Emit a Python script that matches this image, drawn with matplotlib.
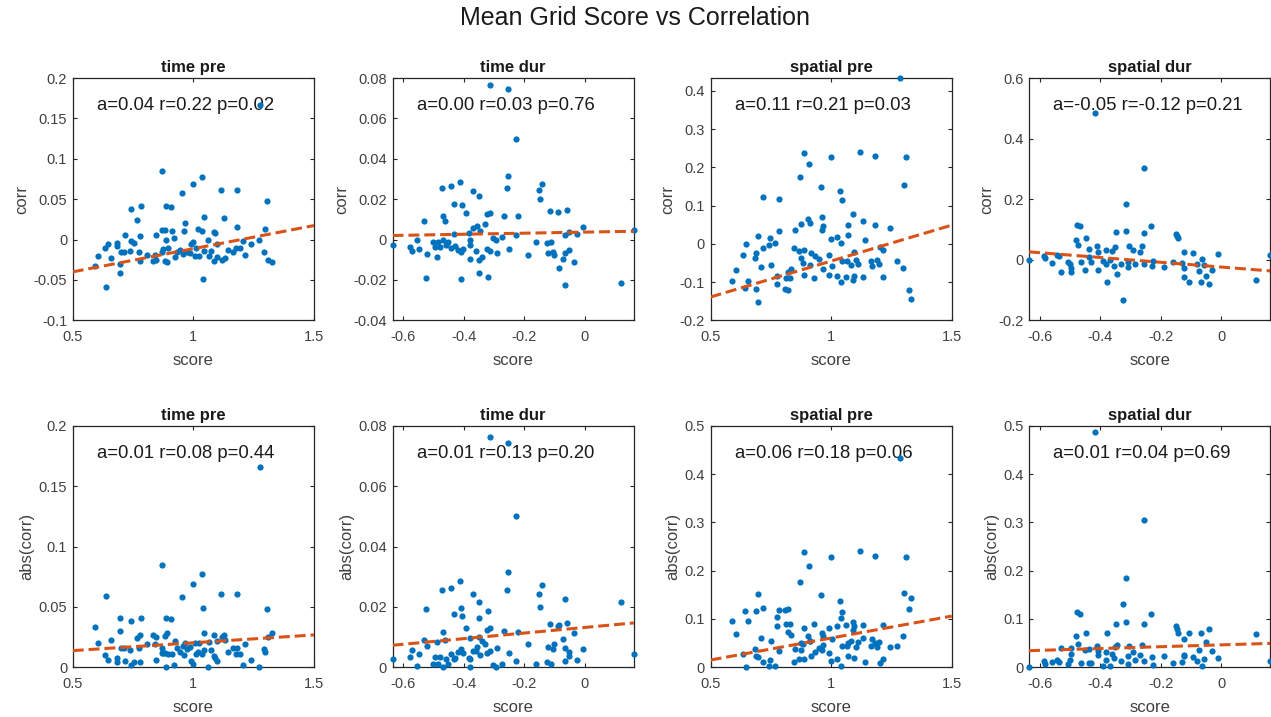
import matplotlib
matplotlib.use("Agg")
import matplotlib.pyplot as plt
import numpy as np

plt.rcParams['font.family'] = ['Liberation Sans', 'DejaVu Sans']
plt.rcParams['axes.unicode_minus'] = False

# ---- data ----
# grid score "pre" vs correlation, time task
x_time_pre = [0.872, 1.037, 0.999, 1.116, 1.179, 0.953, 1.304, 0.782, 0.742, 0.886,
              0.908, 0.767, 1.043, 1.128, 0.964, 0.963, 1.179, 1.295, 1.021, 1.037,
              1.084, 0.869, 0.883, 0.913, 0.847, 0.718, 0.780, 0.886, 0.921, 0.999,
              0.992, 1.089, 1.059, 1.098, 1.207, 1.237, 1.274, 0.742, 0.756, 0.685,
              0.647, 0.635, 0.682, 0.606, 0.658, 0.700, 0.713, 0.775, 0.806, 0.839,
              0.872, 0.895, 0.923, 0.932, 0.943, 0.974, 0.988, 1.007, 1.022, 1.044,
              1.065, 1.085, 1.100, 1.132, 1.145, 1.164, 1.178, 1.193, 1.215, 1.291,
              1.311, 1.325, 0.778, 0.831, 0.882, 0.890, 0.696, 0.591, 0.698, 0.640,
              1.041, 1.275, 0.875, 0.957, 1.012, 1.072, 1.117, 0.847, 0.737]
y_time_pre = [0.085, 0.077, 0.069, 0.061, 0.061, 0.058, 0.048, 0.041, 0.038, 0.041,
              0.040, 0.024, 0.028, 0.027, 0.020, 0.010, 0.016, 0.013, 0.013, 0.011,
              0.009, 0.012, 0.012, 0.011, 0.006, 0.005, 0.004, 0.000, 0.002, -0.003,
              -0.005, 0.008, 0.000, -0.005, -0.002, -0.006, 0.000, -0.002, -0.004, -0.004,
              -0.006, -0.010, -0.008, -0.020, -0.023, -0.016, -0.016, -0.016, -0.019, -0.019,
              -0.016, -0.011, -0.022, -0.016, -0.013, -0.015, -0.017, -0.020, -0.020, -0.014,
              -0.021, -0.027, -0.022, -0.023, -0.013, -0.016, -0.011, -0.011, -0.019, -0.015,
              -0.025, -0.028, -0.027, -0.027, -0.026, -0.028, -0.030, -0.033, -0.041, -0.059,
              -0.049, 0.166, -0.012, -0.018, -0.011, -0.014, -0.025, -0.025, -0.014]

# grid score "pre" vs correlation, spatial task
x_spat_pre = [1.286, 0.889, 1.118, 1.001, 1.181, 1.310, 0.908, 0.870, 0.957, 1.300,
              1.037, 1.046, 0.718, 0.784, 1.089, 0.903, 0.963, 1.132, 0.914, 0.877,
              1.070, 1.181, 0.966, 1.242, 0.850, 0.961, 0.784, 1.071, 0.697, 0.746,
              1.024, 1.001, 1.141, 0.648, 0.743, 0.769, 1.042, 0.717, 0.688, 0.635,
              0.683, 0.846, 0.868, 0.888, 0.875, 0.918, 0.934, 0.948, 0.992, 1.096,
              1.203, 1.216, 0.606, 0.708, 0.752, 0.883, 0.914, 0.966, 1.002, 1.046,
              1.066, 1.082, 1.101, 1.112, 1.165, 1.190, 1.198, 1.170, 1.272, 1.296,
              0.823, 0.835, 0.886, 0.812, 0.776, 0.776, 0.831, 0.930, 0.991, 1.024,
              1.041, 1.060, 1.090, 1.096, 1.134, 1.216, 0.590, 0.657, 0.642, 0.690,
              0.810, 0.820, 0.697, 1.321, 1.330]
y_spat_pre = [0.433, 0.238, 0.240, 0.228, 0.230, 0.228, 0.209, 0.176, 0.150, 0.153,
              0.138, 0.114, 0.123, 0.118, 0.078, 0.064, 0.070, 0.061, 0.054, 0.051,
              0.050, 0.050, 0.047, 0.041, 0.037, 0.035, 0.034, 0.023, 0.021, 0.016,
              0.018, 0.013, 0.010, -0.001, -0.003, 0.002, 0.003, -0.012, -0.023, -0.028,
              -0.037, -0.012, -0.018, -0.017, -0.036, -0.024, -0.031, -0.040, -0.029, -0.020,
              -0.009, -0.017, -0.069, -0.061, -0.054, -0.049, -0.054, -0.065, -0.059, -0.045,
              -0.044, -0.054, -0.042, -0.052, -0.045, -0.042, -0.052, -0.059, -0.045, -0.064,
              -0.073, -0.066, -0.081, -0.090, -0.085, -0.104, -0.090, -0.089, -0.081, -0.085,
              -0.101, -0.087, -0.094, -0.085, -0.088, -0.088, -0.096, -0.096, -0.116, -0.117,
              -0.118, -0.120, -0.152, -0.120, -0.144]

# grid score "dur" vs correlation, time task
x_time_dur = [-0.312, -0.253, -0.227, -0.252, -0.472, -0.441, -0.411, -0.258, -0.141, -0.150,
              -0.369, -0.348, -0.146, -0.433, -0.407, -0.391, -0.470, -0.463, -0.531, -0.323,
              -0.314, -0.267, -0.220, -0.116, -0.088, -0.058, -0.329, -0.370, -0.357, -0.346,
              -0.383, -0.433, -0.006, -0.051, -0.066, -0.026, -0.228, 0.163, -0.303, -0.292,
              -0.273, -0.380, -0.554, -0.501, -0.485, -0.468, -0.452, -0.636, -0.578, -0.571,
              -0.547, -0.496, -0.478, -0.460, -0.441, -0.430, -0.419, -0.408, -0.402, -0.522,
              -0.487, -0.381, -0.358, -0.379, -0.350, -0.339, -0.322, -0.312, -0.290, -0.250,
              -0.161, -0.125, -0.110, -0.186, -0.120, -0.105, -0.102, -0.066, -0.050, -0.070,
              -0.036, -0.084, -0.350, -0.525, -0.408, -0.319, -0.064, 0.119]
y_time_dur = [0.0764, 0.0744, 0.0500, 0.0317, 0.0257, 0.0264, 0.0285, 0.0257, 0.0273, 0.0244,
              0.0242, 0.0215, 0.0200, 0.0177, 0.0171, 0.0129, 0.0116, 0.0090, 0.0090, 0.0124,
              0.0129, 0.0119, 0.0118, 0.0143, 0.0136, 0.0148, 0.0078, 0.0055, 0.0068, 0.0041,
              0.0031, 0.0028, 0.0060, 0.0036, 0.0022, 0.0025, 0.0020, 0.0045, 0.0007, -0.0002,
              0.0012, -0.0002, -0.0003, -0.0012, -0.0010, -0.0002, -0.0010, -0.0028, -0.0035, -0.0058,
              -0.0045, -0.0035, -0.0035, -0.0028, -0.0043, -0.0031, -0.0051, -0.0060, -0.0046, -0.0071,
              -0.0085, -0.0028, -0.0055, -0.0098, -0.0101, -0.0088, -0.0048, -0.0055, -0.0065, -0.0048,
              -0.0012, -0.0018, -0.0012, -0.0078, -0.0068, -0.0061, -0.0078, -0.0065, -0.0051, -0.0095,
              -0.0113, -0.0139, -0.0164, -0.0192, -0.0196, -0.0187, -0.0227, -0.0217]

# grid score "dur" vs correlation, spatial task
x_spat_dur = [-0.418, -0.256, -0.316, -0.477, -0.466, -0.231, -0.347, -0.316, -0.256, -0.150,
              -0.147, -0.143, -0.446, -0.480, -0.475, -0.411, -0.438, -0.351, -0.304, -0.263,
              -0.381, -0.407, -0.360, -0.292, -0.270, -0.122, -0.009, 0.163, -0.587, -0.583,
              -0.544, -0.536, -0.636, -0.560, -0.506, -0.500, -0.497, -0.496, -0.530, -0.465,
              -0.451, -0.438, -0.431, -0.407, -0.391, -0.382, -0.378, -0.368, -0.356, -0.343,
              -0.330, -0.326, -0.309, -0.307, -0.285, -0.254, -0.230, -0.225, -0.189, -0.160,
              -0.128, -0.123, -0.122, -0.106, -0.092, -0.081, -0.074, -0.066, -0.062, -0.056,
              -0.051, -0.040, -0.029, 0.117]
y_spat_dur = [0.486, 0.304, 0.184, 0.114, 0.111, 0.110, 0.090, 0.094, 0.089, 0.086,
              0.079, 0.072, 0.072, 0.065, 0.048, 0.044, 0.037, 0.042, 0.044, 0.046,
              0.031, 0.025, 0.028, 0.031, 0.025, 0.024, 0.019, 0.014, 0.013, 0.006,
              0.015, 0.011, 0.000, -0.010, -0.007, -0.015, -0.028, -0.040, -0.040, -0.008,
              -0.035, 0.009, -0.009, -0.034, -0.003, -0.015, -0.072, -0.002, -0.020, -0.046,
              -0.013, -0.132, -0.024, -0.006, -0.015, -0.013, -0.022, -0.004, -0.024, -0.009,
              -0.011, -0.026, -0.058, -0.072, 0.022, -0.013, -0.036, -0.072, 0.002, -0.017,
              -0.053, -0.079, -0.034, -0.068]

titles = ["time pre", "time dur", "spatial pre", "spatial dur"]
stats_corr = ["a=0.04 r=0.22 p=0.02", "a=0.00 r=0.03 p=0.76",
              "a=0.11 r=0.21 p=0.03", "a=-0.05 r=-0.12 p=0.21"]
stats_abs = ["a=0.01 r=0.08 p=0.44", "a=0.01 r=0.13 p=0.20",
             "a=0.06 r=0.18 p=0.06", "a=0.01 r=0.04 p=0.69"]
# fitted line values at the left / right x limits
fit_corr = [(-0.040, 0.0173), (0.0020, 0.0041), (-0.139, 0.049), (0.026, -0.037)]
fit_abs = [(0.0138, 0.0268), (0.0073, 0.0147), (0.0151, 0.106), (0.0344, 0.0495)]

xs = [x_time_pre, x_time_dur, x_spat_pre, x_spat_dur]
ys = [y_time_pre, y_time_dur, y_spat_pre, y_spat_dur]
xlims = [(0.5, 1.5), (-0.636, 0.163), (0.5, 1.5), (-0.636, 0.163)]
xticks = [[0.5, 1, 1.5], [-0.6, -0.4, -0.2, 0], [0.5, 1, 1.5], [-0.6, -0.4, -0.2, 0]]
ylims_corr = [(-0.1, 0.2), (-0.04, 0.08), (-0.2, 0.434), (-0.2, 0.6)]
yticks_corr = [np.arange(-0.1, 0.201, 0.05), np.arange(-0.04, 0.081, 0.02),
               np.arange(-0.2, 0.41, 0.1), np.arange(-0.2, 0.61, 0.2)]
ylims_abs = [(0, 0.2), (0, 0.08), (0, 0.5), (0, 0.5)]
yticks_abs = [np.arange(0, 0.201, 0.05), np.arange(0, 0.081, 0.02),
              np.arange(0, 0.51, 0.1), np.arange(0, 0.51, 0.1)]

BLUE = '#0072BD'
ORANGE = '#D95319'
DARK = '#262626'

W, H = 1271, 717
fig = plt.figure(figsize=(W / 100, H / 100), dpi=100)
fig.text(0.5, 1 - 18 / H, "Mean Grid Score vs Correlation", ha='center', va='center',
         fontsize=18, color='#1a1a1a')

lefts = [72.7, 392.5, 710.5, 1029.0]
aw = 241.3
rows = [(78.0, 320.3), (425.7, 667.3)]


def fmt(v):
    s = "%g" % round(v, 4)
    return s


def panel(ax, x, y, xl, xt, yl, yt, fit, title, stat, ylab):
    ax.scatter(x, y, s=20, c=BLUE, linewidths=0, clip_on=False, zorder=3)
    ax.plot(xl, fit, color=ORANGE, lw=2.2, linestyle=(0, (3.6, 1.6)), zorder=4)
    ax.set_xlim(xl)
    ax.set_ylim(yl)
    ax.set_xticks(xt)
    ax.set_xticklabels([fmt(v) for v in xt])
    ax.set_yticks(yt)
    ax.set_yticklabels([fmt(v) for v in yt])
    ax.tick_params(direction='in', length=3, width=0.8, top=True, right=True,
                   labelsize=10.5, colors=DARK, labelcolor='#404040')
    ax.tick_params(axis='x', pad=7)
    ax.tick_params(axis='y', pad=4)
    for sp in ax.spines.values():
        sp.set_color(DARK)
        sp.set_linewidth(0.9)
    ax.set_title(title, fontsize=12, fontweight='bold', color='#1a1a1a', pad=4)
    ax.set_xlabel("score", fontsize=12, color='#404040', labelpad=6.5)
    ax.set_ylabel(ylab, fontsize=12, color='#404040', labelpad=3)
    ax.text(0.1, 0.885, stat, transform=ax.transAxes, ha='left', va='center',
            fontsize=13.3, color='#1a1a1a', zorder=2)


for i in range(4):
    for r, (top, bot) in enumerate(rows):
        ax = fig.add_axes([lefts[i] / W, 1 - bot / H, aw / W, (bot - top) / H])
        if r == 0:
            panel(ax, xs[i], ys[i], xlims[i], xticks[i], ylims_corr[i], yticks_corr[i],
                  fit_corr[i], titles[i], stats_corr[i], "corr")
        else:
            panel(ax, xs[i], np.abs(ys[i]), xlims[i], xticks[i], ylims_abs[i], yticks_abs[i],
                  fit_abs[i], titles[i], stats_abs[i], "abs(corr)")

fig.savefig("out.png", dpi=100)
